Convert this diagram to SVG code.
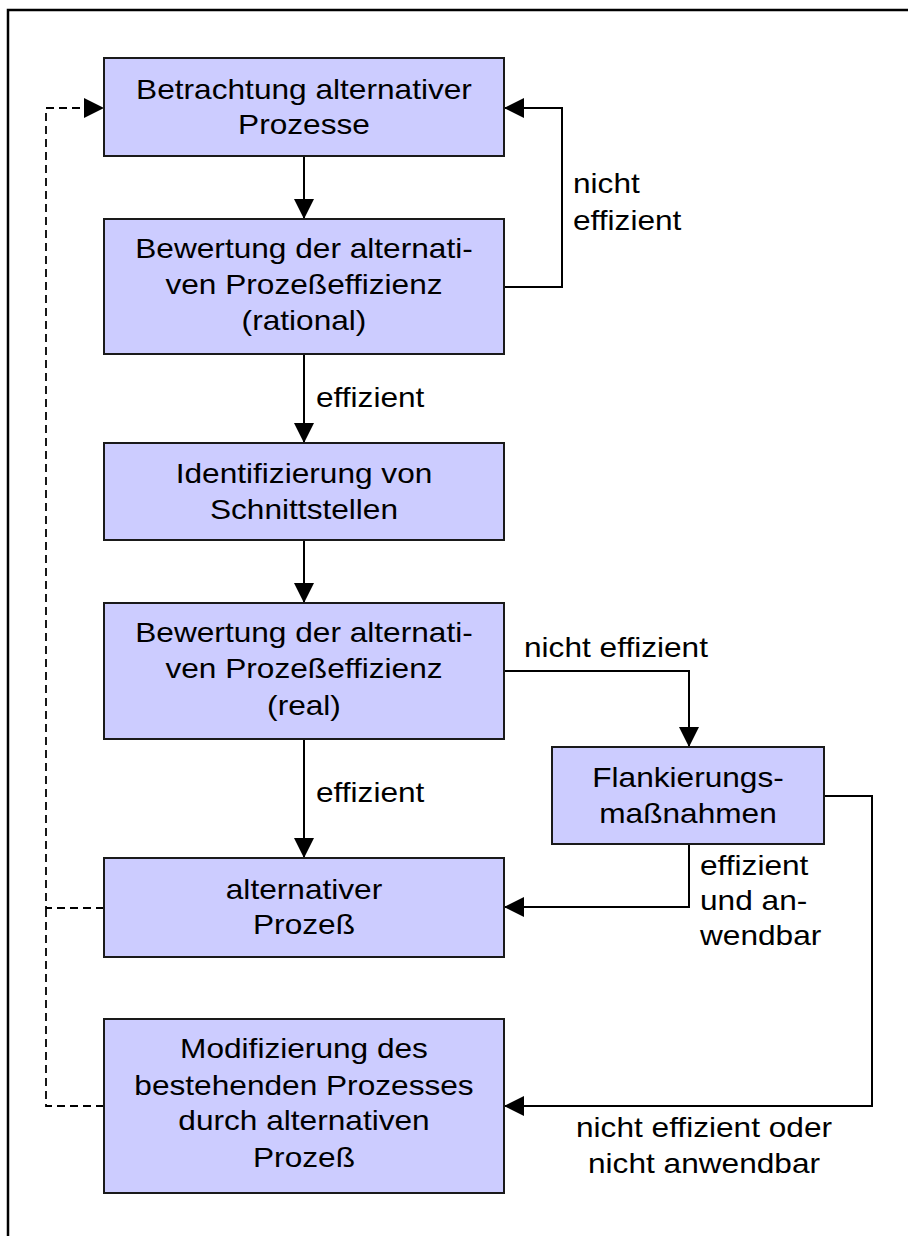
<svg xmlns="http://www.w3.org/2000/svg" width="908" height="1236" viewBox="0 0 908 1236">
  <style>
    .box { fill: #ccccff; stroke: #1a1a1a; stroke-width: 2; }
    .t { font-family: "Liberation Sans", Arial, sans-serif; font-size: 28px; fill: #000; }
    .c { text-anchor: middle; }
    .line { fill: none; stroke: #000; stroke-width: 2; }
    .dash { fill: none; stroke: #000; stroke-width: 1.8; stroke-dasharray: 8 5; }
  </style>
  <defs>
    <marker id="arrow" viewBox="0 0 20 20" refX="20" refY="10" markerWidth="20" markerHeight="20" markerUnits="userSpaceOnUse" orient="auto">
      <path d="M0,0 L20,10 L0,20 Z" fill="#000"/>
    </marker>
  </defs>
  <rect width="908" height="1236" fill="#fff"/>
  <!-- outer frame, running past the right and bottom edges -->
  <rect x="8" y="10" width="1000" height="1300" fill="none" stroke="#000" stroke-width="2.5"/>

  <g id="connectors">
    <path class="line" d="M304,156 V219" marker-end="url(#arrow)"/>
    <path class="line" d="M504,287 H562 V108 H504" marker-end="url(#arrow)"/>
    <path class="line" d="M304,354 V443" marker-end="url(#arrow)"/>
    <path class="line" d="M304,540 V603" marker-end="url(#arrow)"/>
    <path class="line" d="M504,671 H689 V747" marker-end="url(#arrow)"/>
    <path class="line" d="M304,739 V858" marker-end="url(#arrow)"/>
    <path class="line" d="M689,844 V907 H504" marker-end="url(#arrow)"/>
    <path class="line" d="M824,796 H872 V1106 H504" marker-end="url(#arrow)"/>
    <path class="dash" d="M104,908 H46 V108 H84"/>
    <path d="M84,98 L104,108 L84,118 Z" fill="#000"/>
    <path class="dash" d="M104,1106 H46 V908"/>
    <g class="t">
      <text transform="translate(573,193) scale(1.13,1)">nicht</text>
      <text transform="translate(573,230) scale(1.13,1)">effizient</text>
      <text transform="translate(316,407) scale(1.13,1)">effizient</text>
      <text transform="translate(524,657) scale(1.13,1)">nicht effizient</text>
      <text transform="translate(316,802) scale(1.13,1)">effizient</text>
      <text transform="translate(700,875) scale(1.13,1)">effizient</text>
      <text transform="translate(700,910) scale(1.13,1)">und an-</text>
      <text transform="translate(700,945) scale(1.13,1)">wendbar</text>
      <text class="c" transform="translate(704,1137) scale(1.13,1)">nicht effizient oder</text>
      <text class="c" transform="translate(704,1173) scale(1.13,1)">nicht anwendbar</text>
    </g>
  </g>

  <g id="betrachtung">
    <rect class="box" x="104" y="58" width="400" height="98"/>
    <text class="t c" transform="translate(304,99) scale(1.13,1)"><tspan x="0" y="0">Betrachtung alternativer</tspan><tspan x="0" y="35">Prozesse</tspan></text>
  </g>

  <g id="bewertung-rational">
    <rect class="box" x="104" y="219" width="400" height="135"/>
    <text class="t c" transform="translate(304,258) scale(1.13,1)"><tspan x="0" y="0">Bewertung der alternati-</tspan><tspan x="0" y="36">ven Prozeßeffizienz</tspan><tspan x="0" y="72">(rational)</tspan></text>
  </g>

  <g id="identifizierung">
    <rect class="box" x="104" y="443" width="400" height="97"/>
    <text class="t c" transform="translate(304,483) scale(1.13,1)"><tspan x="0" y="0">Identifizierung von</tspan><tspan x="0" y="36">Schnittstellen</tspan></text>
  </g>

  <g id="bewertung-real">
    <rect class="box" x="104" y="603" width="400" height="136"/>
    <text class="t c" transform="translate(304,642) scale(1.13,1)"><tspan x="0" y="0">Bewertung der alternati-</tspan><tspan x="0" y="36">ven Prozeßeffizienz</tspan><tspan x="0" y="73">(real)</tspan></text>
  </g>

  <g id="flankierung">
    <rect class="box" x="552" y="747" width="272" height="97"/>
    <text class="t c" transform="translate(688,787) scale(1.13,1)"><tspan x="0" y="0">Flankierungs-</tspan><tspan x="0" y="36">maßnahmen</tspan></text>
  </g>

  <g id="alternativer-prozess">
    <rect class="box" x="104" y="858" width="400" height="99"/>
    <text class="t c" transform="translate(304,899) scale(1.13,1)"><tspan x="0" y="0">alternativer</tspan><tspan x="0" y="35">Prozeß</tspan></text>
  </g>

  <g id="modifizierung">
    <rect class="box" x="104" y="1019" width="400" height="174"/>
    <text class="t c" transform="translate(304,1058) scale(1.13,1)"><tspan x="0" y="0">Modifizierung des</tspan><tspan x="0" y="37">bestehenden Prozesses</tspan><tspan x="0" y="72">durch alternativen</tspan><tspan x="0" y="109">Prozeß</tspan></text>
  </g>
</svg>
